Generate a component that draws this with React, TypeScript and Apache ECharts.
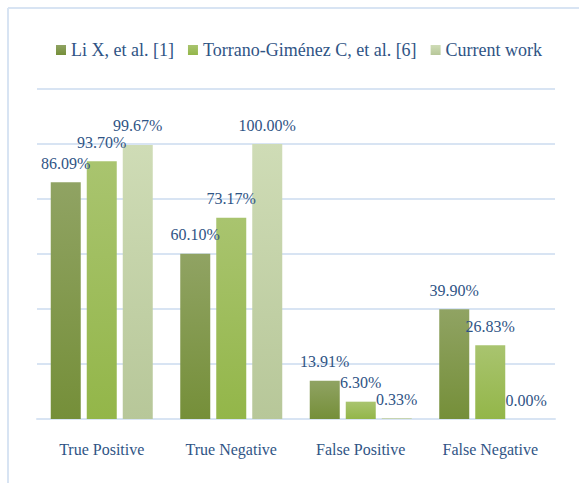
import React, { useEffect, useRef } from "react";
import * as echarts from "echarts";

const categories = ["True Positive", "True Negative", "False Positive", "False Negative"];
const seriesNames = ["Li X, et al. [1]", "Torrano-Giménez C, et al. [6]", "Current work"];
const liX = [86.09, 60.1, 13.91, 39.9];
const torrano = [93.7, 73.17, 6.3, 26.83];
const current = [99.67, 100.0, 0.33, 0.0];

const FONT = "Liberation Serif";
const TEXT = "#2f5485";
const LINE = "#d8e4f3";

const grads: [string, string][] = [
  ["#90a363", "#758f39"],
  ["#a9c46f", "#93b649"],
  ["#cfdcb6", "#b7c799"],
];

export default function App() {
  const ref = useRef<HTMLDivElement>(null);
  useEffect(() => {
    if (!ref.current) return;
    const chart = echarts.init(ref.current, undefined, { renderer: "svg" });
    const data = [liX, torrano, current];
    chart.setOption({
      animation: false,
      backgroundColor: "#ffffff",
      graphic: [
        { type: "line", shape: { x1: 8, y1: 8, x2: 579, y2: 8 }, style: { stroke: LINE, lineWidth: 2 } },
        { type: "line", shape: { x1: 8, y1: 8, x2: 8, y2: 483 }, style: { stroke: LINE, lineWidth: 2 } },
      ],
      legend: {
        left: 51,
        top: 36,
        itemWidth: 10,
        itemHeight: 10,
        itemGap: 14,
        icon: "rect",
        textStyle: { fontFamily: FONT, fontSize: 18, color: TEXT },
        data: seriesNames,
      },
      grid: { left: 37, right: 24, top: 89, bottom: 64 },
      xAxis: {
        type: "category",
        data: categories,
        axisLine: { lineStyle: { color: LINE, width: 2 } },
        axisTick: { show: false },
        axisLabel: { fontFamily: FONT, fontSize: 16, color: TEXT, margin: 22 },
      },
      yAxis: {
        type: "value",
        min: 0,
        max: 120,
        interval: 20,
        axisLabel: { show: false },
        axisLine: { show: false },
        axisTick: { show: false },
        splitLine: { lineStyle: { color: LINE, width: 2 } },
      },
      series: seriesNames.map((name, i) => ({
        name,
        type: "bar",
        data: data[i],
        barWidth: 30,
        barGap: "20%",
        itemStyle: {
          color: new echarts.graphic.LinearGradient(0, 0, 0, 1, [
            { offset: 0, color: grads[i][0] },
            { offset: 1, color: grads[i][1] },
          ]),
        },
        label: {
          show: true,
          position: "top",
          distance: 11,
          fontFamily: FONT,
          fontSize: 16,
          color: TEXT,
          formatter: (p: any) => p.value.toFixed(2) + "%",
        },
      })),
    });
    return () => chart.dispose();
  }, []);
  return (
    <div
      ref={ref}
      style={{ position: "absolute", left: 0, top: 0, width: 579, height: 483 }}
    />
  );
}
